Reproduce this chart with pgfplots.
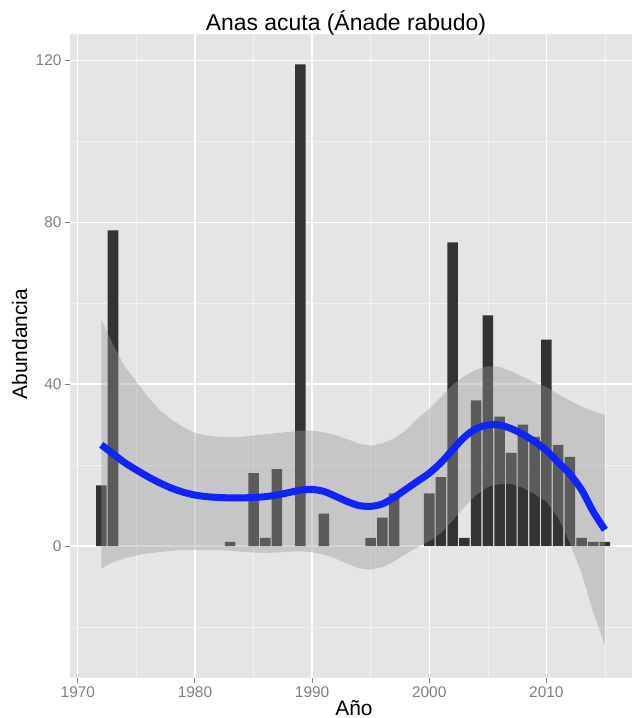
\documentclass[border=0pt]{standalone}
\usepackage{pgfplots}
\pgfplotsset{compat=1.18}
\usepackage{pgfplotstable}
\usepackage{fontspec}
\setmainfont{Liberation Sans}
\definecolor{ggbg}{HTML}{E5E5E5}
\definecolor{ggminor}{HTML}{F2F2F2}
\definecolor{ggbar}{HTML}{333333}
\definecolor{ggrib}{HTML}{999999}
\definecolor{ggtick}{HTML}{7F7F7F}
\definecolor{ggblue}{RGB}{15,35,250}

\pgfplotstableread{
year n
1972 15
1973 78
1983 1
1985 18
1986 2
1987 19
1989 119
1991 8
1995 2
1996 7
1997 13
2000 13
2001 17
2002 75
2003 2
2004 36
2005 57
2006 32
2007 23
2008 30
2009 27
2010 51
2011 25
2012 22
2013 2
2014 1
2015 1
}\bartab

\pgfplotstableread{
year fit
1972 25.0
1973 22.8
1974 20.6
1975 18.8
1976 17.1
1977 15.6
1978 14.3
1979 13.3
1980 12.6
1981 12.2
1982 12.0
1983 11.9
1984 11.9
1985 12.0
1986 12.2
1987 12.6
1988 13.2
1989 13.8
1990 14.0
1991 13.5
1992 12.3
1993 11.0
1994 10.0
1995 9.8
1996 10.4
1997 12.0
1998 14.0
1999 16.0
2000 18.0
2001 20.6
2002 23.8
2003 26.9
2004 29.0
2005 29.9
2006 29.9
2007 29.0
2008 27.6
2009 25.8
2010 23.6
2011 20.7
2012 17.8
2013 13.9
2014 8.5
2015 4.0
}\fittab

% confidence band: upper bound forward, lower bound backward
\pgfplotstableread{
year band
1972 56.0
1973 49.8
1974 44.3
1975 40.6
1976 36.8
1977 33.6
1978 31.2
1979 29.4
1980 28.0
1981 27.3
1982 27.0
1983 26.9
1984 27.0
1985 27.3
1986 27.6
1987 27.9
1988 28.2
1989 28.5
1990 28.5
1991 28.1
1992 27.4
1993 26.4
1994 25.3
1995 24.8
1996 25.4
1997 26.6
1998 28.6
1999 31.5
2000 33.9
2001 36.8
2002 39.8
2003 42.0
2004 43.6
2005 44.4
2006 44.3
2007 43.2
2008 41.8
2009 40.4
2010 39.3
2011 37.5
2012 35.9
2013 34.5
2014 33.3
2015 32.4
2015 -24.5
2014 -16.4
2013 -6.7
2012 0.8
2011 7.0
2010 11.0
2009 12.8
2008 14.4
2007 15.3
2006 15.3
2005 14.6
2004 12.6
2003 9.6
2002 6.3
2001 3.2
2000 1.2
1999 -0.3
1998 -2.0
1997 -3.8
1996 -5.2
1995 -5.8
1994 -5.5
1993 -4.4
1992 -3.1
1991 -2.1
1990 -1.5
1989 -1.3
1988 -1.4
1987 -1.6
1986 -1.7
1985 -1.6
1984 -1.4
1983 -1.2
1982 -1.0
1981 -1.0
1980 -1.0
1979 -1.0
1978 -1.2
1977 -1.5
1976 -1.8
1975 -2.3
1974 -3.0
1973 -4.0
1972 -5.5
}\bandtab

\begin{document}
\begin{tikzpicture}
\begin{axis}[
  at={(70bp,40bp)}, anchor=south west,
  width=562bp, height=644bp, scale only axis,
  xmin=1969.33, xmax=2017.31, ymin=-32.6, ymax=126.5,
  axis background/.style={fill=ggbg},
  axis line style={draw=none},
  tick align=outside, tick pos=left,
  xtick={1970,1980,1990,2000,2010},
  xticklabels={1970,1980,1990,2000,2010},
  minor xtick={1975,1985,1995,2005,2015},
  ytick={0,40,80,120},
  yticklabels={0,40,80,120},
  minor ytick={-20,20,60,100},
  grid=both,
  major grid style={white, line width=1.3bp},
  minor grid style={ggminor, line width=0.6bp},
  major tick length=5bp, minor tick length=0pt,
  major tick style={ggtick, line width=1bp},
  ticklabel style={font=\fontsize{15.5}{18}\selectfont, text=ggtick},
  clip=true,
]
\addplot[ybar, bar width=0.9, bar shift=0pt, fill=ggbar, draw=none] table[x=year,y=n]{\bartab};
\addplot[fill=ggrib, fill opacity=0.4, draw=none] table[x=year,y=band]{\bandtab} -- cycle;
\addplot[ggblue, line width=7bp, smooth] table[x=year,y=fit]{\fittab};
\end{axis}
\node[anchor=base, font=\fontsize{23}{27}\selectfont] at (346bp,687bp) {Anas acuta (Ánade rabudo)};
\node[anchor=base, font=\fontsize{21}{25}\selectfont] at (354bp,3bp) {Año};
\node[anchor=base, rotate=90, font=\fontsize{21}{25}\selectfont] at (27bp,374bp) {Abundancia};
\pgfresetboundingbox
\useasboundingbox (0bp,0bp) rectangle (632bp,718bp);
\end{tikzpicture}
\end{document}
